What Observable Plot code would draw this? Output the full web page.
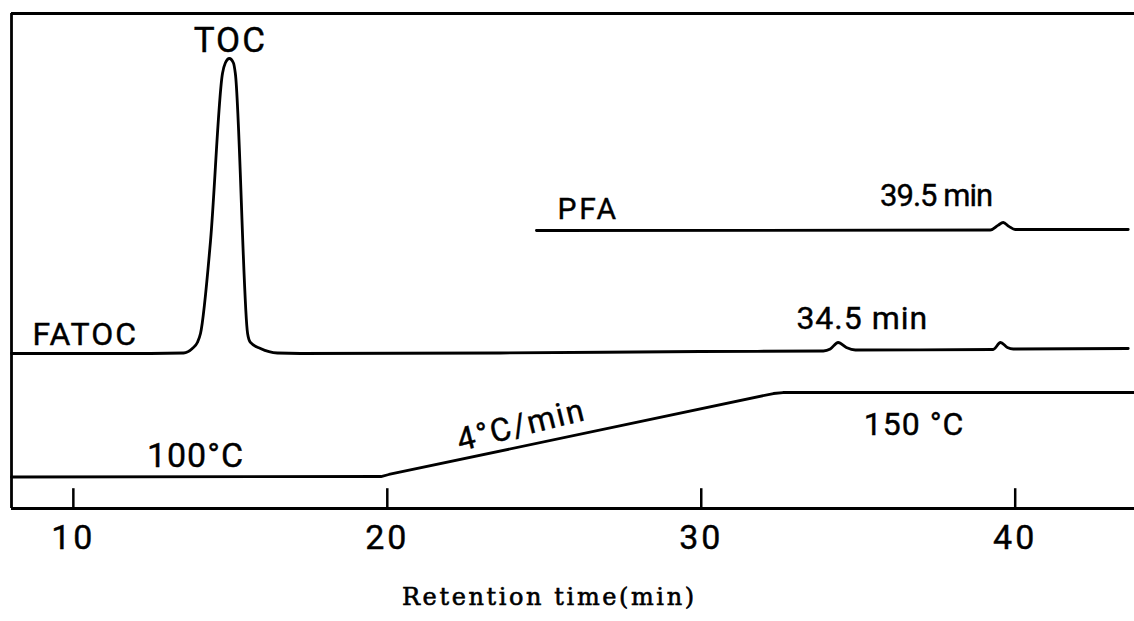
<!DOCTYPE html>
<html><head><meta charset="utf-8">
<script src="https://cdn.jsdelivr.net/npm/d3@7"></script>
<script src="https://cdn.jsdelivr.net/npm/@observablehq/plot@0.6"></script>
<style>html,body{margin:0;padding:0;background:#fff}</style>
</head><body><div id="chart"></div>
<script>
// FATOC trace (retention time in min, detector signal in arbitrary units)
const fatocTime   = [8.03, 12.46, 13.51, 13.79, 13.95, 14.05, 14.37, 14.75, 14.84, 14.97, 15.10, 15.16, 15.55, 15.64, 15.96, 16.50, 17.23, 23.60, 29.97, 33.89, 34.11, 34.36, 34.62, 34.91, 39.30, 39.53, 39.75, 39.94, 43.60];
const fatocSignal = [31.31, 31.31, 31.41, 32.32, 33.54, 35.35, 54.14, 87.88, 90.0, 90.91, 90.0, 87.88, 35.35, 33.54, 32.32, 31.41, 31.31, 31.41, 31.72, 31.82, 32.22, 33.54, 32.53, 32.02, 32.12, 33.54, 32.53, 32.22, 32.32];
// PFA trace
const pfaTime   = [24.75, 32.0, 39.21, 39.45, 39.62, 39.80, 40.00, 43.60];
const pfaSignal = [56.16, 56.20, 56.26, 57.2, 57.78, 57.0, 56.36, 56.36];
// Oven temperature programme (drawn trace)
const tempTime   = [8.03, 19.80, 20.05, 32.30, 32.60, 43.80];
const tempSignal = [6.36, 6.46, 6.87, 23.23, 23.43, 23.43];
// Axis
const xTicks = [10, 20, 30, 40];
const xDomain = [8.03, 43.8];
const yDomain = [0, 100];
const xLabel = "Retention time(min)";
const xLabelTime = 25.16;
// Annotations
const labelText   = ["TOC", "FATOC", "PFA", "34.5 min", "39.5 min", "100°C", "4°C/min", "150 °C"];
const labelTime   = [15.0, 10.38, 26.4, 35.13, 37.48, 13.89, 24.27, 36.78];
const labelSignal = [94.5, 35.2, 60.4, 38.4, 63.2, 10.5, 16.8, 17.0];

const labelStyle = {
  "TOC":      {fontSize: 35, ls: 2, rotate: 0},
  "FATOC":    {fontSize: 32, ls: 2, rotate: 0},
  "PFA":      {fontSize: 30, ls: 3, rotate: 0},
  "34.5 min": {fontSize: 32, ls: 1, rotate: 0},
  "39.5 min": {fontSize: 31, ls: -1, rotate: 0},
  "100°C":    {fontSize: 34, ls: 1, rotate: 0},
  "4°C/min":  {fontSize: 32, ls: 2, rotate: -14},
  "150 °C":   {fontSize: 32, ls: 1, rotate: 0}
};

const fatoc = fatocTime.map((t, i) => ({t, s: fatocSignal[i]}));
const pfa = pfaTime.map((t, i) => ({t, s: pfaSignal[i]}));
const temp = tempTime.map((t, i) => ({t, s: tempSignal[i]}));
const labels = labelText.map((text, i) => ({text, t: labelTime[i], s: labelSignal[i]}));

const lineOpts = {x: "t", y: "s", stroke: "#000", strokeWidth: 2.8, curve: "monotone-x", strokeLinejoin: "round", strokeLinecap: "round"};

const marks = [
  Plot.ruleY([yDomain[1]], {stroke: "#000", strokeWidth: 3}),
  Plot.ruleY([yDomain[0]], {stroke: "#000", strokeWidth: 2.8}),
  Plot.ruleX([xDomain[0]], {y1: yDomain[0], y2: yDomain[1], stroke: "#000", strokeWidth: 2.8}),
  Plot.ruleX(xTicks, {x: d => d, y1: yDomain[0], y2: 4, stroke: "#000", strokeWidth: 2.5}),
  Plot.text(xTicks, {x: d => d, y: yDomain[0], dy: 30, text: d => String(d), fontSize: 34, fontFamily: "Roboto", lineAnchor: "middle"}),
  Plot.text([xLabel], {x: xLabelTime, y: yDomain[0], dy: 89, text: d => d, fontSize: 24, fontFamily: "DejaVu Serif", lineAnchor: "middle"}),
  Plot.line(fatoc, lineOpts),
  Plot.line(pfa, lineOpts),
  Plot.line(temp, {...lineOpts, curve: "linear"})
];
for (const lab of labels) {
  const st = labelStyle[lab.text];
  marks.push(Plot.text([lab], {x: "t", y: "s", text: "text", fontSize: st.fontSize, fontFamily: "Roboto", rotate: st.rotate, lineAnchor: "middle", textAnchor: "middle"}));
}

const chart = Plot.plot({
  width: 1134, height: 621,
  marginLeft: 11, marginRight: 0, marginTop: 13, marginBottom: 113,
  x: {domain: xDomain, axis: null},
  y: {domain: yDomain, axis: null},
  style: {background: "#fff", color: "#000", fontFamily: "Roboto"},
  marks
});
document.getElementById("chart").append(chart);

// letter spacing / weight to mimic the original lettering
d3.select(chart).selectAll("text").each(function() {
  const txt = this.textContent;
  if (labelStyle[txt]) {
    this.style.letterSpacing = labelStyle[txt].ls + "px";
    this.style.stroke = "#000";
    this.style.strokeWidth = "0.4px";
  } else if (txt === xLabel) {
    this.style.letterSpacing = "2.6px";
    this.style.stroke = "#000";
    this.style.strokeWidth = "0.6px";
  } else if (xTicks.map(String).includes(txt)) {
    this.style.letterSpacing = "3px";
    this.style.stroke = "#000";
    this.style.strokeWidth = "0.4px";
  }
});
</script>
</body></html>
